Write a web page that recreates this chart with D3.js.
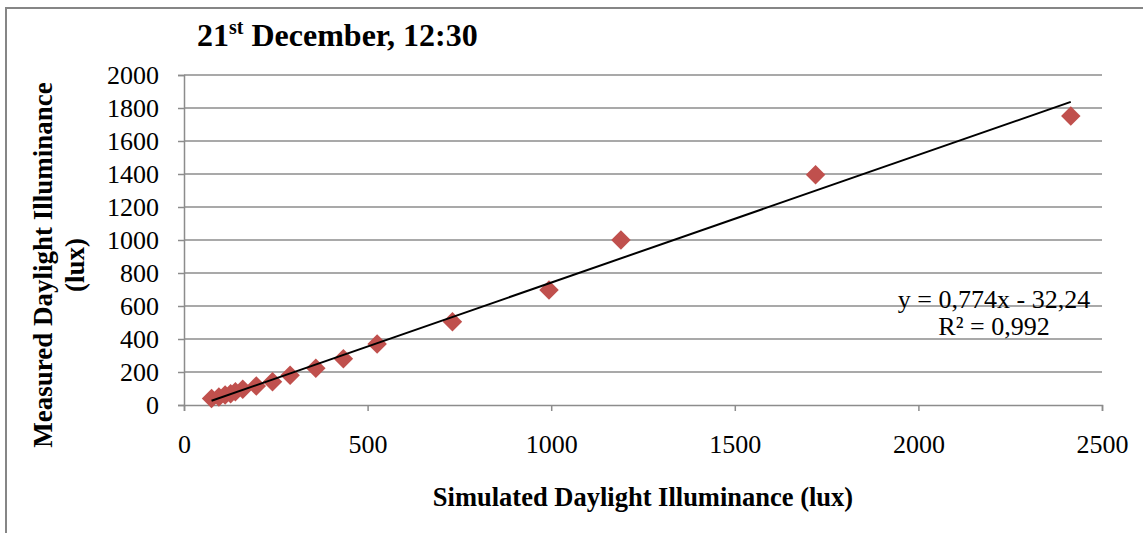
<!DOCTYPE html>
<html>
<head>
<meta charset="utf-8">
<script src="https://cdn.jsdelivr.net/npm/d3@7"></script>
<style>
  body { margin: 0; background: #fff; }
  svg text { font-family: "Liberation Serif", "Times New Roman", serif; fill: #000; }
</style>
</head>
<body>
<svg id="chart" width="1143" height="533"></svg>
<script>
// simulated (x) vs measured (y) illuminance, lux
var simulated = [75, 95, 112, 127, 140, 160, 197, 241, 289, 359, 434, 526, 731, 994, 1190, 1720, 2415];
var measured  = [40, 49, 60, 68, 80, 95, 115, 141, 181, 222, 281, 370, 505, 697, 1000, 1395, 1752];
var xTicks = [0, 500, 1000, 1500, 2000, 2500];
var yTicks = [0, 200, 400, 600, 800, 1000, 1200, 1400, 1600, 1800, 2000];
var slope = 0.774, intercept = -32.24;
var eqLines = ["y = 0,774x - 32,24", "R² = 0,992"];

var serif = "'Liberation Serif', 'Times New Roman', serif";
var svg = d3.select("#chart");

// outer chart frame (runs off right/bottom edge)
svg.append("rect")
  .attr("x", 6).attr("y", 8)
  .attr("width", 1160).attr("height", 560)
  .attr("fill", "#fff")
  .attr("stroke", "#868686")
  .attr("stroke-width", 2);

var x = d3.scaleLinear().domain([0, 2500]).range([184, 1102]);
var y = d3.scaleLinear().domain([0, 2000]).range([405, 75]);

// gridlines
svg.append("g").selectAll("line")
  .data(yTicks.slice(1))
  .enter().append("line")
  .attr("x1", x(0)).attr("x2", x(2500))
  .attr("y1", function(d) { return y(d); })
  .attr("y2", function(d) { return y(d); })
  .attr("stroke", "#8c8c8c")
  .attr("stroke-width", 1.5);

// axes
var xAxis = d3.axisBottom(x).tickValues(xTicks).tickFormat(d3.format("d")).tickSize(6);
var yAxis = d3.axisLeft(y).tickValues(yTicks).tickFormat(d3.format("d")).tickSize(6).tickPadding(19);

var gx = svg.append("g").attr("transform", "translate(0," + y(0) + ")").call(xAxis);
var gy = svg.append("g").attr("transform", "translate(" + x(0) + ",0)").call(yAxis);

[gx, gy].forEach(function(g) {
  g.attr("font-family", serif).attr("font-size", 26);
  g.select(".domain").attr("stroke", "#8c8c8c").attr("stroke-width", 1.5);
  g.selectAll(".tick line").attr("stroke", "#8c8c8c").attr("stroke-width", 1.5);
  g.selectAll(".tick text").attr("fill", "#000").style("font-family", serif);
});
gx.selectAll(".tick text").attr("y", 48).attr("dy", 0);

// markers
var diamond = d3.symbol().type(d3.symbolSquare).size(190);
svg.append("g").selectAll("path")
  .data(simulated)
  .enter().append("path")
  .attr("d", diamond)
  .attr("transform", function(d, i) {
    return "translate(" + x(d) + "," + y(measured[i]) + ") rotate(45)";
  })
  .attr("fill", "#C0504D");

// linear trendline
var xMin = d3.min(simulated), xMax = d3.max(simulated);
svg.append("line")
  .attr("x1", x(xMin)).attr("y1", y(slope * xMin + intercept))
  .attr("x2", x(xMax)).attr("y2", y(slope * xMax + intercept))
  .attr("stroke", "#000")
  .attr("stroke-width", 2);

// equation label
svg.append("g").selectAll("text")
  .data(eqLines)
  .enter().append("text")
  .attr("x", 994)
  .attr("y", function(d, i) { return 308 + i * 27; })
  .attr("text-anchor", "middle")
  .style("font-size", "26px")
  .text(function(d) { return d; });

// title
var title = svg.append("text")
  .attr("x", 197).attr("y", 46)
  .style("font-size", "32px")
  .style("font-weight", "bold");
title.append("tspan").text("21");
title.append("tspan").attr("dy", -12).style("font-size", "20px").text("st");
title.append("tspan").attr("dy", 12).text(" December, 12:30");

// axis titles
svg.append("text")
  .attr("x", 643).attr("y", 506)
  .attr("text-anchor", "middle")
  .style("font-size", "26.5px")
  .style("font-weight", "bold")
  .text("Simulated Daylight Illuminance (lux)");

var yt = svg.append("text")
  .attr("transform", "translate(52,265) rotate(-90)")
  .attr("text-anchor", "middle")
  .style("font-size", "27px")
  .style("font-weight", "bold");
yt.append("tspan").attr("x", 0).attr("y", 0).text("Measured Daylight Illuminance");
yt.append("tspan").attr("x", 0).attr("y", 32).text("(lux)");
</script>
</body>
</html>
